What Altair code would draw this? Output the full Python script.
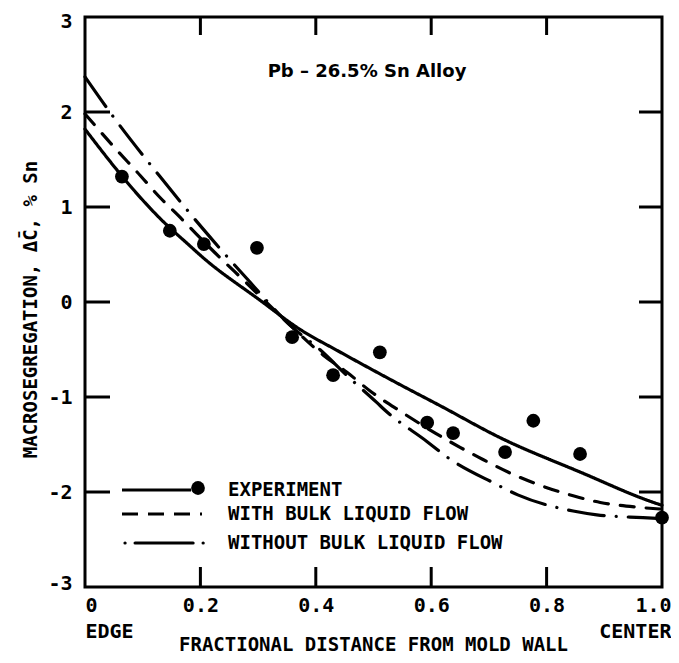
import altair as alt
import pandas as pd

# ---------------- data ----------------
SERIES = ["EXPERIMENT", "WITH BULK LIQUID FLOW", "WITHOUT BULK LIQUID FLOW"]

EXP_X = [0.064, 0.147, 0.206, 0.298, 0.359, 0.43, 0.511, 0.593, 0.638, 0.728, 0.777, 0.858, 1.0]
EXP_Y = [1.32, 0.75, 0.61, 0.57, -0.37, -0.77, -0.53, -1.27, -1.38, -1.58, -1.25, -1.60, -2.27]

SOLID_X = [0.00, 0.05, 0.08, 0.13, 0.182, 0.204, 0.303, 0.373, 0.44, 0.546, 0.615, 0.72, 0.858, 0.99, 1.00]
SOLID_Y = [1.82, 1.43, 1.21, 0.88, 0.59, 0.47, 0.02, -0.29, -0.52, -0.87, -1.09, -1.43, -1.79, -2.12, -2.14]

DASH_X = [0.00, 0.055, 0.09, 0.13, 0.165, 0.194, 0.22, 0.28, 0.36, 0.413, 0.454, 0.497, 0.549, 0.607, 0.65, 0.681, 0.733, 0.789, 0.846, 0.893, 0.957, 1.00]
DASH_Y = [1.98, 1.60, 1.37, 1.10, 0.89, 0.71, 0.55, 0.20, -0.27, -0.56, -0.74, -0.95, -1.16, -1.38, -1.53, -1.63, -1.79, -1.93, -2.04, -2.11, -2.16, -2.18]

DDOT_X = [0.00, 0.049, 0.13, 0.203, 0.28, 0.36, 0.407, 0.455, 0.506, 0.52, 0.593, 0.627, 0.71, 0.75, 0.846, 0.887, 0.967, 1.00]
DDOT_Y = [2.37, 1.95, 1.32, 0.78, 0.25, -0.27, -0.50, -0.78, -1.06, -1.14, -1.47, -1.63, -1.91, -2.03, -2.20, -2.24, -2.27, -2.28]

X_TICKS = [0.0, 0.2, 0.4, 0.6, 0.8, 1.0]
Y_TICKS = [-3, -2, -1, 0, 1, 2, 3]
X_INNER_TICKS = [0.2, 0.4, 0.6, 0.8]
Y_INNER_TICKS = [-2, -1, 0, 1, 2]

ANNOTATION = "Pb \u2013 26.5% Sn Alloy"
X_TITLE = "FRACTIONAL DISTANCE FROM MOLD WALL"
Y_TITLE = "MACROSEGREGATION, \u0394C\u0304, % Sn"

# ---------------- frames ----------------
curves = pd.concat([
    pd.DataFrame({"x": SOLID_X, "y": SOLID_Y, "series": SERIES[0]}),
    pd.DataFrame({"x": DASH_X, "y": DASH_Y, "series": SERIES[1]}),
    pd.DataFrame({"x": DDOT_X, "y": DDOT_Y, "series": SERIES[2]}),
], ignore_index=True)
points = pd.DataFrame({"x": EXP_X, "y": EXP_Y})
xt = pd.DataFrame({"x": X_INNER_TICKS})
yt = pd.DataFrame({"y": Y_INNER_TICKS})

FONT = "DejaVu Sans Mono"
W, H = 577, 570
DASHES = [[1, 0], [14, 12], [36, 12, 0.1, 12]]

xscale = alt.Scale(domain=[0, 1], nice=False, zero=False)
yscale = alt.Scale(domain=[-3, 3], nice=False, zero=False)

xaxis = alt.Axis(
    values=X_TICKS, grid=False, domain=False, ticks=False, tickSize=0,
    labelExpr="datum.value == 0 ? ['0', 'EDGE'] : datum.value == 1 ? ['1.0', 'CENTER'] : format(datum.value, '.1f')",
    labelFlush=True,
    labelOffset={"condition": {"test": "datum.value == 1", "value": 9}, "value": 0},
    labelFont=FONT, labelFontSize=20, labelFontWeight="bold", labelColor="black",
    labelPadding=8, labelLineHeight=26,
    title=X_TITLE, titleFont=FONT, titleFontSize=19, titleFontWeight="bold", titleColor="black",
    titleX=288, titleY=57, titleBaseline="middle", titleAnchor="middle",
)
yaxis = alt.Axis(
    values=Y_TICKS, grid=False, domain=False, ticks=False, tickSize=0,
    labelExpr="datum.value < 0 ? '-' + abs(datum.value) : '' + datum.value",
    labelFlush=False,
    labelOffset={"condition": [{"test": "datum.value == 3", "value": 4},
                               {"test": "datum.value == -3", "value": -4}], "value": 0},
    labelFont=FONT, labelFontSize=20, labelFontWeight="bold", labelColor="black",
    labelPadding=13,
    title=Y_TITLE, titleFont=FONT, titleFontSize=19, titleFontWeight="bold", titleColor="black",
    titleX=-55, titleY=292, titleAngle=270, titleBaseline="middle", titleAlign="center",
)

X = alt.X("x:Q", scale=xscale, axis=xaxis)
Y = alt.Y("y:Q", scale=yscale, axis=yaxis)

lines = alt.Chart(curves).mark_line(
    color="black", strokeWidth=3.2, interpolate="monotone", strokeCap="round"
).encode(
    x=X, y=Y,
    strokeDash=alt.StrokeDash("series:N", scale=alt.Scale(domain=SERIES, range=DASHES), legend=None),
)

dots = alt.Chart(points).mark_circle(size=190, color="black", opacity=1).encode(x=X, y=Y)

tick_style = dict(color="black", strokeWidth=3)
left_ticks = alt.Chart(yt).mark_rule(**tick_style).encode(y=Y, x=alt.value(0), x2=alt.value(25))
right_ticks = alt.Chart(yt).mark_rule(**tick_style).encode(y=Y, x=alt.value(W - 23), x2=alt.value(W))
top_ticks = alt.Chart(xt).mark_rule(**tick_style).encode(x=X, y=alt.value(0), y2=alt.value(18))
bottom_ticks = alt.Chart(xt).mark_rule(**tick_style).encode(x=X, y=alt.value(H - 20), y2=alt.value(H))

annotation = alt.Chart(pd.DataFrame({"t": [ANNOTATION]})).mark_text(
    font="DejaVu Sans", fontSize=18, fontWeight="bold", color="black",
    align="center", baseline="middle"
).encode(text="t:N", x=alt.value(282), y=alt.value(55))

# ---------------- hand-built legend (inside plot, lower left) ----------------
LEG_ROWS = [473, 497, 526]
leg_layers = []
one = pd.DataFrame({"k": [0]})
# row 1: solid line + filled circle
leg_layers.append(alt.Chart(one).mark_rule(color="black", strokeWidth=3.2).encode(
    x=alt.value(37), x2=alt.value(106), y=alt.value(LEG_ROWS[0])))
leg_layers.append(alt.Chart(one).mark_circle(size=190, color="black", opacity=1).encode(
    x=alt.value(113), y=alt.value(LEG_ROWS[0] - 2)))
# row 2: dashed
leg_layers.append(alt.Chart(one).mark_rule(color="black", strokeWidth=3.2, strokeDash=[16, 10], strokeCap="butt").encode(
    x=alt.value(37), x2=alt.value(117), y=alt.value(LEG_ROWS[1])))
# row 3: dot-dash-dot
leg_layers.append(alt.Chart(one).mark_rule(color="black", strokeWidth=3.2, strokeDash=[0.1, 10, 58, 10], strokeCap="round").encode(
    x=alt.value(40), x2=alt.value(123), y=alt.value(LEG_ROWS[2])))
for i, name in enumerate(SERIES):
    leg_layers.append(alt.Chart(pd.DataFrame({"t": [name]})).mark_text(
        font=FONT, fontSize=19, fontWeight="bold", color="black", align="left", baseline="middle"
    ).encode(text="t:N", x=alt.value(143), y=alt.value(LEG_ROWS[i])))

chart = alt.layer(
    lines, dots, left_ticks, right_ticks, top_ticks, bottom_ticks, annotation, *leg_layers
).properties(
    width=W, height=H,
    autosize=alt.AutoSizeParams(type="none"),
    padding={"left": 77, "top": 9, "right": 9, "bottom": 68},
    background="white",
).configure_view(stroke="black", strokeWidth=3)

chart.save("out.html", embed_options={"renderer": "svg", "actions": False})
